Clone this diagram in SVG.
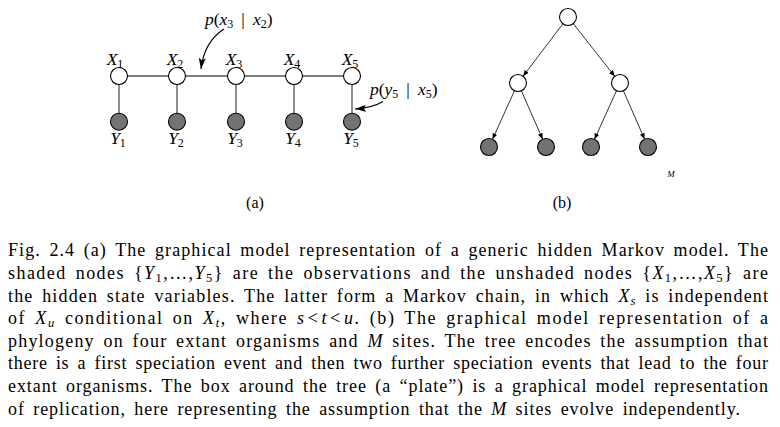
<svg xmlns="http://www.w3.org/2000/svg" width="780" height="427" viewBox="0 0 780 427">
<defs>
<style>
.hid{fill:#fff;stroke:#000;stroke-width:1.1}
.obs{fill:#737373;stroke:#000;stroke-width:1.1}
.lbl{font-family:"Liberation Serif",serif;font-style:italic;font-size:17.5px;fill:#000}
.sub{font-size:12px;font-style:normal}
.up{font-style:normal}
.edge{stroke:#000;stroke-width:1.2;fill:none}
.vedge{stroke:#444;stroke-width:1.2;fill:none}
.tedge{stroke:#000;stroke-width:0.8;fill:none}
.cap{font-family:"Liberation Serif",serif;font-size:18px;word-spacing:3px;fill:#000}
.it{font-style:italic}
.cs{font-size:12.5px}
.pl{font-family:"Liberation Serif",serif;font-size:16px;fill:#000}
.mlbl{font-family:"Liberation Serif",serif;font-style:italic;font-size:9px;fill:#000}
</style>
<marker id="ah" viewBox="0 0 10 10" refX="10" refY="5" markerWidth="6" markerHeight="5" markerUnits="userSpaceOnUse" orient="auto" preserveAspectRatio="none">
<path d="M0,0 L10,5 L0,10 Z" fill="#000"/>
</marker>
<marker id="ah2" viewBox="0 0 10 10" refX="10" refY="5" markerWidth="11" markerHeight="7" markerUnits="userSpaceOnUse" orient="auto" preserveAspectRatio="none">
<path d="M0,0 L10,5 L0,10 L2,5 Z" fill="#000"/>
</marker>
</defs>
<rect width="780" height="427" fill="#fff"/>

<g id="connectors">
<line class="edge" x1="127.5" y1="76" x2="168.5" y2="76"/>
<line class="edge" x1="185.5" y1="76" x2="227.5" y2="76"/>
<line class="edge" x1="244.5" y1="76" x2="285.5" y2="76"/>
<line class="edge" x1="302.5" y1="76" x2="343.5" y2="76"/>
<line class="vedge" x1="119" y1="84.5" x2="119" y2="113"/>
<line class="vedge" x1="177" y1="84.5" x2="177" y2="113"/>
<line class="vedge" x1="236" y1="84.5" x2="236" y2="113"/>
<line class="vedge" x1="294" y1="84.5" x2="294" y2="113"/>
<line class="vedge" x1="352" y1="84.5" x2="352" y2="113"/>
<path class="edge" d="M224,29 Q204,42 201,69" marker-end="url(#ah2)"/>
<path class="edge" d="M383,101.5 Q372,108 355,109" marker-end="url(#ah2)"/>
<line class="tedge" x1="562.9" y1="23.8" x2="523.1" y2="76.2" marker-end="url(#ah)"/>
<line class="tedge" x1="573.3" y1="23.7" x2="614.7" y2="76.3" marker-end="url(#ah)"/>
<line class="tedge" x1="514.5" y1="90.7" x2="492.5" y2="139.3" marker-end="url(#ah)"/>
<line class="tedge" x1="521.4" y1="90.8" x2="542.6" y2="139.2" marker-end="url(#ah)"/>
<line class="tedge" x1="616.5" y1="90.7" x2="594.5" y2="139.3" marker-end="url(#ah)"/>
<line class="tedge" x1="623.4" y1="90.8" x2="644.6" y2="139.2" marker-end="url(#ah)"/>
</g>

<g id="X1"><circle class="hid" cx="119" cy="76" r="8.5"/><text class="lbl" x="115" y="65" text-anchor="middle">X<tspan class="sub" dy="3">1</tspan></text></g>
<g id="X2"><circle class="hid" cx="177" cy="76" r="8.5"/><text class="lbl" x="175" y="65" text-anchor="middle">X<tspan class="sub" dy="3">2</tspan></text></g>
<g id="X3"><circle class="hid" cx="236" cy="76" r="8.5"/><text class="lbl" x="234" y="65" text-anchor="middle">X<tspan class="sub" dy="3">3</tspan></text></g>
<g id="X4"><circle class="hid" cx="294" cy="76" r="8.5"/><text class="lbl" x="292" y="65" text-anchor="middle">X<tspan class="sub" dy="3">4</tspan></text></g>
<g id="X5"><circle class="hid" cx="352" cy="76" r="8.5"/><text class="lbl" x="350" y="65" text-anchor="middle">X<tspan class="sub" dy="3">5</tspan></text></g>
<g id="Y1"><circle class="obs" cx="119" cy="121.7" r="8.5"/><text class="lbl" x="118" y="144" text-anchor="middle">Y<tspan class="sub" dy="3">1</tspan></text></g>
<g id="Y2"><circle class="obs" cx="177" cy="121.7" r="8.5"/><text class="lbl" x="176" y="144" text-anchor="middle">Y<tspan class="sub" dy="3">2</tspan></text></g>
<g id="Y3"><circle class="obs" cx="236" cy="121.7" r="8.5"/><text class="lbl" x="235" y="144" text-anchor="middle">Y<tspan class="sub" dy="3">3</tspan></text></g>
<g id="Y4"><circle class="obs" cx="294" cy="121.7" r="8.5"/><text class="lbl" x="293" y="144" text-anchor="middle">Y<tspan class="sub" dy="3">4</tspan></text></g>
<g id="Y5"><circle class="obs" cx="352" cy="121.7" r="8.5"/><text class="lbl" x="351" y="144" text-anchor="middle">Y<tspan class="sub" dy="3">5</tspan></text></g>

<g id="label-p-x3-x2"><text class="lbl" x="205" y="25">p<tspan class="up">(</tspan>x<tspan class="sub" dy="3">3</tspan><tspan class="up" dx="8" dy="-3">|</tspan><tspan dx="8">x</tspan><tspan class="sub" dy="3">2</tspan><tspan class="up" dy="-3">)</tspan></text></g>
<g id="label-p-y5-x5"><text class="lbl" x="370" y="95">p<tspan class="up">(</tspan>y<tspan class="sub" dy="3">5</tspan><tspan class="up" dx="8" dy="-3">|</tspan><tspan dx="8">x</tspan><tspan class="sub" dy="3">5</tspan><tspan class="up" dy="-3">)</tspan></text></g>

<g id="root"><circle class="hid" cx="568" cy="17" r="8.5"/></g>
<g id="mid-left"><circle class="hid" cx="518" cy="83" r="8.5"/></g>
<g id="mid-right"><circle class="hid" cx="620" cy="83" r="8.5"/></g>
<g id="leaf1"><circle class="obs" cx="489" cy="147" r="8.5"/></g>
<g id="leaf2"><circle class="obs" cx="546" cy="147" r="8.5"/></g>
<g id="leaf3"><circle class="obs" cx="591" cy="147" r="8.5"/></g>
<g id="leaf4"><circle class="obs" cx="648" cy="147" r="8.5"/></g>
<g id="plate-label"><text class="mlbl" x="671" y="176.5" text-anchor="middle">M</text></g>

<text class="pl" x="255" y="208" text-anchor="middle">(a)</text>
<text class="pl" x="562" y="208" text-anchor="middle">(b)</text>

<g id="caption">
<text class="cap" x="8" y="256.3" textLength="760" lengthAdjust="spacing">Fig. 2.4 (a) The graphical model representation of a generic hidden Markov model. The</text>
<text class="cap" x="8" y="278.9" textLength="760" lengthAdjust="spacing">shaded nodes {<tspan class="it">Y</tspan><tspan class="cs" dy="3">1</tspan><tspan dy="-3">,…,</tspan><tspan class="it">Y</tspan><tspan class="cs" dy="3">5</tspan><tspan dy="-3">} are the observations and the unshaded nodes {</tspan><tspan class="it">X</tspan><tspan class="cs" dy="3">1</tspan><tspan dy="-3">,…,</tspan><tspan class="it">X</tspan><tspan class="cs" dy="3">5</tspan><tspan dy="-3">} are</tspan></text>
<text class="cap" x="8" y="301.5" textLength="760" lengthAdjust="spacing">the hidden state variables. The latter form a Markov chain, in which <tspan class="it">X</tspan><tspan class="cs it" dy="3">s</tspan><tspan dy="-3"> is independent</tspan></text>
<text class="cap" x="8" y="324.1" textLength="760" lengthAdjust="spacing">of <tspan class="it">X</tspan><tspan class="cs it" dy="3">u</tspan><tspan dy="-3"> conditional on </tspan><tspan class="it">X</tspan><tspan class="cs it" dy="3">t</tspan><tspan dy="-3">, where </tspan><tspan class="it">s</tspan><tspan dx="2">&lt;</tspan><tspan class="it" dx="2">t</tspan><tspan dx="2">&lt;</tspan><tspan class="it" dx="2">u</tspan>. (b) The graphical model representation of a</text>
<text class="cap" x="8" y="346.7" textLength="760" lengthAdjust="spacing">phylogeny on four extant organisms and <tspan class="it">M</tspan> sites. The tree encodes the assumption that</text>
<text class="cap" x="8" y="369.3" textLength="760" lengthAdjust="spacing">there is a first speciation event and then two further speciation events that lead to the four</text>
<text class="cap" x="8" y="391.9" textLength="760" lengthAdjust="spacing">extant organisms. The box around the tree (a “plate”) is a graphical model representation</text>
<text class="cap" x="8" y="414.5" textLength="732" lengthAdjust="spacing">of replication, here representing the assumption that the <tspan class="it">M</tspan> sites evolve independently.</text>
</g>
</svg>
